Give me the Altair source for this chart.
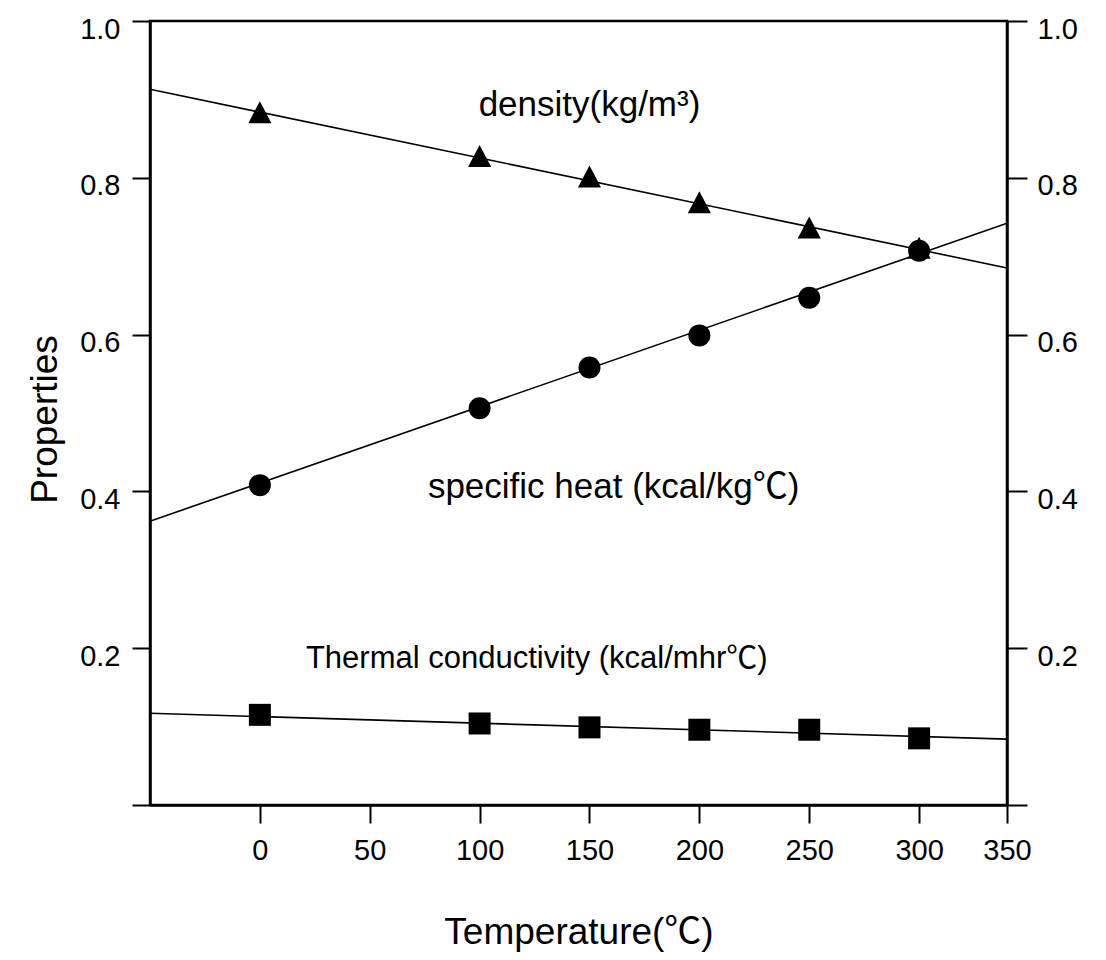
import altair as alt
import pandas as pd

# ---- data ----
temps = [0, 100, 150, 200, 250, 300]
density = [0.883, 0.827, 0.801, 0.768, 0.736, 0.710]
specific_heat = [0.408, 0.506, 0.558, 0.599, 0.647, 0.707]
conductivity = [0.115, 0.104, 0.099, 0.096, 0.096, 0.085]

# fitted straight lines (values at the left and right edges of the plot)
fit_temps = [-50, 340]
density_fit = [0.913, 0.685]
specific_heat_fit = [0.362, 0.742]
conductivity_fit = [0.117, 0.084]

series_names = ["density", "specific heat", "conductivity"]

x_ticks = [0, 50, 100, 150, 200, 250, 300, 340]
y_ticks = [0, 0.2, 0.4, 0.6, 0.8, 1.0]

label_texts = ["density(kg/m³)", "specific heat (kcal/kg℃)", "Thermal conductivity (kcal/mhr℃)"]
label_x = [150, 161, 126]
label_y = [0.893, 0.406, 0.186]

FONT = "Liberation Sans, Arial, 'Noto Sans CJK KR', sans-serif"
TRIANGLE = "M0,-1.05L1.05,0.95L-1.05,0.95Z"

# ---- tables ----
pts = pd.DataFrame(
    [(t, v, "density") for t, v in zip(temps, density)]
    + [(t, v, "specific heat") for t, v in zip(temps, specific_heat)]
    + [(t, v, "conductivity") for t, v in zip(temps, conductivity)],
    columns=["temp", "value", "series"],
)
fits = pd.DataFrame(
    [(t, v, "density") for t, v in zip(fit_temps, density_fit)]
    + [(t, v, "specific heat") for t, v in zip(fit_temps, specific_heat_fit)]
    + [(t, v, "conductivity") for t, v in zip(fit_temps, conductivity_fit)],
    columns=["temp", "value", "series"],
)
labels = pd.DataFrame({"temp": label_x, "value": label_y, "text": label_texts, "idx": [0, 1, 2]})

xscale = alt.Scale(domain=[-50, 340], nice=False, zero=False)
yscale = alt.Scale(domain=[0, 1], nice=False, zero=False)

x_axis = alt.Axis(
    orient="bottom",
    values=x_ticks,
    labelExpr="datum.value == 340 ? '350' : datum.label",
    labelFlush=False,
    labelOverlap=False,
    title="Temperature(℃)",
    titleFontSize=37,
    titleFontWeight="normal",
    titleY=138,
    titleBaseline="alphabetic",
    tickSize=18,
    labelPadding=13,
    labelFontSize=29,
    grid=False,
)

left_axis = alt.Axis(
    orient="left",
    values=y_ticks,
    labelExpr="datum.value == 0 ? '' : format(datum.value, '.1f')",
    labelFlush=False,
    title="Properties",
    titleFontSize=37,
    titleFontWeight="normal",
    titleX=-105,
    titleY=398,
    titleBaseline="middle",
    tickSize=18,
    labelPadding=12,
    labelOffset=8,
    labelFontSize=29,
    grid=False,
)

right_axis = alt.Axis(
    orient="right",
    values=y_ticks,
    labelExpr="datum.value == 0 ? '' : format(datum.value, '.1f')",
    labelFlush=False,
    title=None,
    tickSize=20,
    labelPadding=10,
    labelOffset=8,
    labelFontSize=29,
    grid=False,
)

X = alt.X("temp:Q", scale=xscale, axis=x_axis, title="Temperature(℃)")

lines = alt.Chart(fits).mark_line(color="black", strokeWidth=1.6).encode(
    x=X,
    y=alt.Y("value:Q", scale=yscale, axis=left_axis),
    detail="series:N",
)

points = alt.Chart(pts).mark_point(filled=True, opacity=1, size=484, color="black").encode(
    x=X,
    y=alt.Y("value:Q", scale=yscale, axis=right_axis),
    shape=alt.Shape(
        "series:N",
        scale=alt.Scale(domain=series_names, range=[TRIANGLE, "circle", "square"]),
        legend=None,
    ),
)

def text_layer(i, size):
    return (
        alt.Chart(labels)
        .transform_filter(alt.datum.idx == i)
        .mark_text(fontSize=size, font=FONT, color="black", align="center", baseline="middle")
        .encode(
            x=X,
            y=alt.Y("value:Q", scale=yscale, axis=None),
            text="text:N",
        )
    )

chart = (
    alt.layer(lines, points, text_layer(0, 35), text_layer(1, 35), text_layer(2, 31))
    .resolve_axis(y="independent")
    .properties(
        width=857,
        height=784,
        autosize=alt.AutoSizeParams(type="none"),
        padding={"left": 142, "top": 13, "right": 90, "bottom": 147},
        background="white",
    )
    .configure_view(stroke="black", strokeWidth=2.5)
    .configure_axis(
        domainColor="black",
        domainWidth=2.5,
        tickColor="black",
        tickWidth=2,
        labelColor="black",
        titleColor="black",
        labelFont=FONT,
        titleFont=FONT,
    )
)

chart.save("out.html", embed_options={"renderer": "svg", "actions": False})
